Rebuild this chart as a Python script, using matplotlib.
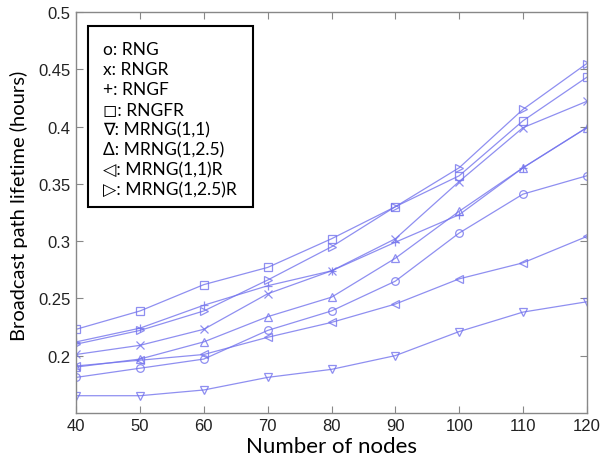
import matplotlib
matplotlib.use("Agg")
import matplotlib.pyplot as plt
from matplotlib.patches import Rectangle

plt.rcParams['font.family'] = ['Liberation Sans', 'DejaVu Sans']

nodes = [40, 50, 60, 70, 80, 90, 100, 110, 120]
rng = [0.181, 0.189, 0.197, 0.222, 0.239, 0.265, 0.307, 0.341, 0.357]
rngr = [0.201, 0.209, 0.223, 0.254, 0.274, 0.302, 0.352, 0.399, 0.422]
rngf = [0.212, 0.224, 0.244, 0.261, 0.274, 0.299, 0.323, 0.364, 0.399]
rngfr = [0.223, 0.239, 0.262, 0.277, 0.302, 0.330, 0.357, 0.405, 0.443]
mrng_11 = [0.165, 0.165, 0.170, 0.181, 0.188, 0.200, 0.221, 0.238, 0.247]
mrng_125 = [0.190, 0.197, 0.212, 0.234, 0.251, 0.285, 0.326, 0.364, 0.399]
mrng_11r = [0.191, 0.196, 0.201, 0.216, 0.229, 0.245, 0.267, 0.281, 0.304]
mrng_125r = [0.210, 0.222, 0.239, 0.266, 0.295, 0.330, 0.364, 0.415, 0.455]

series = [rng, rngr, rngf, rngfr, mrng_11, mrng_125, mrng_11r, mrng_125r]
markers = ['o', 'x', '+', 's', 'v', '^', '<', '>']
legend_lines = ["o: RNG", "x: RNGR", "+: RNGF", "\u25fb: RNGFR", "\u2207: MRNG(1,1)",
                "\u0394: MRNG(1,2.5)", "\u25c1: MRNG(1,1)R", "\u25b7: MRNG(1,2.5)R"]
yticks = [0.2, 0.25, 0.3, 0.35, 0.4, 0.45, 0.5]
yticklabels = ["0.2", "0.25", "0.3", "0.35", "0.4", "0.45", "0.5"]

fig = plt.figure(figsize=(6, 4.64), dpi=100)
ax = fig.add_axes([0.127, 0.108, 0.851, 0.864])

col = (0.45, 0.45, 0.93)
for ys, m in zip(series, markers):
    ax.plot(nodes, ys, marker=m, color=col, alpha=0.8, linewidth=0.9,
            markersize=5.5, markerfacecolor='none', markeredgewidth=0.9)

ax.set_xlim(40, 120)
ax.set_ylim(0.15, 0.5)
ax.set_xticks(nodes)
ax.set_yticks(yticks)
ax.set_yticklabels(yticklabels)
ax.tick_params(direction='in', top=True, right=True, length=5, color='#888888',
               labelsize=12, labelcolor='#222222', pad=4)
for s in ax.spines.values():
    s.set_color('#888888')
    s.set_linewidth(1.0)

lab_font = ['Lato', 'DejaVu Sans']
ax.set_xlabel("Number of nodes", fontfamily=lab_font, fontsize=16, labelpad=2)
ax.set_ylabel("Broadcast path lifetime (hours)", fontfamily=lab_font, fontsize=14.5)
ax.yaxis.set_label_coords(-0.095, 0.52)

ax.add_patch(Rectangle((0.0235, 0.514), 0.3225, 0.451, transform=ax.transAxes,
                       facecolor='white', edgecolor='black', linewidth=1.5, zorder=5))
for i, t in enumerate(legend_lines):
    ax.text(0.053, 0.907 - i * 0.0501, t, transform=ax.transAxes, va='center', ha='left',
            fontsize=12.5, fontfamily=lab_font, zorder=6)

fig.savefig("out.png", dpi=100)
